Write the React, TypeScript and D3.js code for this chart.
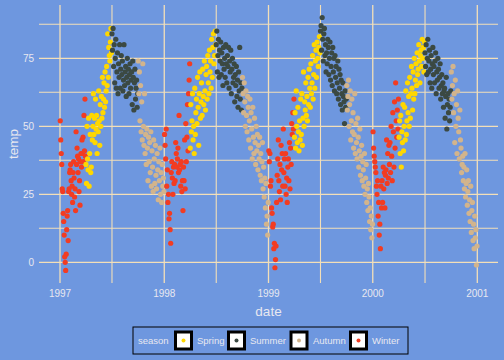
import React from 'react';
import * as d3 from 'd3';

// daily temps (°F), one array per quarter, in date order
const winter1997 = [52, 45, 40, 36, 27, 26, 18, 15, 10, 2, 0, -3, 3, 12, 17, 19, 8, 26, 27, 33, 34, 36, 30, 25, 28, 22, 33, 37, 31, 24, 27, 19, 48, 36, 42, 39, 33, 38, 26, 30, 21, 37, 40, 35, 45, 40, 46, 37, 54, 41, 60, 39];
const spring1997 = [36, 29, 50, 38, 34, 53, 28, 40, 47, 33, 35, 54, 45, 50, 62, 47, 53, 44, 60, 49, 54, 40, 51, 48, 63, 52, 43, 58, 50, 61, 53, 68, 55, 60, 66, 57, 70, 59, 63, 72, 65, 84, 68, 79, 76, 74, 81, 86, 77];
const summer1997 = [84, 78, 86, 72, 80, 66, 75, 82, 64, 70, 77, 62, 73, 68, 80, 64, 71, 76, 69, 74, 63, 67, 80, 65, 70, 72, 61, 68, 75, 66, 71, 62, 69, 73, 64, 67, 70, 58, 74, 68, 56, 66, 71, 60, 64, 67, 57, 62];
const autumn1997 = [74, 62, 70, 52, 65, 48, 59, 45, 73, 50, 43, 62, 40, 47, 36, 49, 42, 30, 46, 37, 44, 33, 48, 28, 41, 35, 26, 45, 38, 29, 43, 32, 27, 40, 34, 23, 37, 30, 42, 25, 33, 22, 36, 28, 31, 26];

const winter1998 = [47, 43, 38, 49, 28, 34, 22, 25, 16, 18, 12, 7, 33, 37, 31, 25, 35, 29, 36, 30, 44, 40, 35, 38, 42, 33, 54, 34, 36, 28, 37, 26, 30, 19, 35, 30, 45, 27, 51, 37, 46, 58, 41, 62, 67, 73];
const spring1998 = [42, 58, 48, 52, 62, 45, 50, 40, 64, 47, 55, 60, 51, 68, 57, 43, 62, 70, 53, 59, 66, 54, 71, 61, 58, 74, 63, 56, 69, 72, 60, 76, 66, 62, 78, 70, 74, 64, 82, 68, 79, 84, 73, 76, 85, 80];
const summer1998 = [80, 85, 70, 76, 82, 68, 78, 74, 81, 69, 77, 73, 65, 79, 71, 75, 68, 80, 73, 66, 76, 72, 79, 64, 74, 70, 78, 62, 71, 75, 66, 68, 73, 59, 69, 65, 72, 61, 67, 57, 70, 63, 79, 60, 66, 56, 64];
const autumn1998 = [68, 62, 55, 66, 59, 50, 63, 54, 48, 61, 57, 45, 52, 60, 42, 55, 49, 38, 57, 46, 40, 53, 44, 36, 50, 41, 47, 34, 43, 38, 46, 32, 40, 30, 37, 44, 27, 35, 24, 31, 20, 29, 14, 17, 10, 22];

const winter1999 = [41, 37, 40, 28, 30, 20, 18, 13, 14, 5, 7, -2, 1, 6, 22, 32, 38, 45, 30, 26, 36, 23, 43, 34, 40, 28, 49, 33, 38, 28, 40, 25, 31, 22, 35, 38, 30, 44, 27, 42, 36, 51, 47, 55, 49, 60];
const spring1999 = [46, 55, 42, 63, 50, 44, 57, 48, 41, 52, 45, 60, 47, 62, 43, 53, 70, 50, 59, 56, 66, 54, 61, 52, 68, 58, 71, 64, 57, 73, 62, 66, 76, 60, 69, 80, 64, 74, 78, 68, 81, 75, 72, 79, 83, 77];
const summer1999 = [85, 87, 78, 90, 82, 74, 84, 86, 76, 80, 70, 77, 73, 82, 79, 69, 75, 81, 67, 72, 77, 65, 79, 70, 75, 63, 76, 68, 72, 62, 66, 74, 60, 71, 64, 69, 58, 67, 62, 56, 66, 61, 59, 51, 63, 57, 60];
const autumn1999 = [65, 56, 61, 67, 50, 58, 63, 45, 52, 60, 48, 55, 42, 47, 62, 40, 51, 44, 38, 53, 46, 35, 41, 49, 32, 39, 43, 30, 37, 34, 28, 40, 25, 31, 36, 22, 27, 19, 29, 24, 15, 20, 12, 17, 9, 14];

const winter2000 = [48, 42, 39, 37, 35, 33, 28, 25, 30, 17, 22, 10, 14, 5, 28, 20, 30, 22, 35, 27, 33, 20, 32, 34, 45, 29, 40, 31, 43, 36, 44, 33, 50, 39, 30, 55, 48, 35, 59, 42, 66, 52, 46, 56, 49, 60];
const spring2000 = [46, 52, 40, 54, 35, 48, 44, 58, 41, 50, 57, 45, 63, 47, 52, 66, 55, 61, 50, 68, 53, 62, 72, 64, 56, 70, 60, 75, 62, 67, 73, 65, 77, 69, 71, 80, 74, 66, 76, 78, 72, 82, 75, 79, 70, 81];
const summer2000 = [77, 72, 80, 69, 75, 82, 70, 74, 78, 66, 71, 76, 64, 73, 79, 69, 72, 66, 74, 77, 62, 70, 67, 75, 71, 64, 68, 73, 60, 65, 69, 62, 66, 57, 63, 64, 53, 61, 68, 49, 58, 62, 55, 60, 52, 57, 63];
const autumn2000 = [70, 60, 65, 72, 55, 62, 44, 67, 50, 58, 40, 63, 53, 48, 38, 56, 45, 42, 33, 36, 39, 30, 35, 27, 40, 24, 29, 34, 21, 26, 30, 18, 23, 15, 28, 11, 19, 22, 8, 14, 5, 17, 9, 12, -1, 6];

const seasons = ['Spring', 'Summer', 'Autumn', 'Winter'];
const seasonColors = ['#ffd700', '#3b4943', '#d2b48c', '#f23c22'];
const years = [1997, 1998, 1999, 2000];
const yTicks = [0, 25, 50, 75];

// quarter index -> season
const quarterSeason = ['Winter', 'Spring', 'Summer', 'Autumn'];
const quarters = [
  [winter1997, spring1997, summer1997, autumn1997],
  [winter1998, spring1998, summer1998, autumn1998],
  [winter1999, spring1999, summer1999, autumn1999],
  [winter2000, spring2000, summer2000, autumn2000],
];

const points = [];
years.forEach((yr, yi) => {
  quarters[yi].forEach((vals, q) => {
    const start = new Date(yr, q * 3, 1).getTime();
    const end = new Date(yr, q * 3 + 3, 1).getTime();
    vals.forEach((v, i) => {
      points.push({
        date: new Date(start + ((i + 0.5) / vals.length) * (end - start)),
        temp: v,
        season: quarterSeason[q],
      });
    });
  });
});

const W = 504, H = 360;
const panel = { left: 39, right: 498, top: 5, bottom: 283 };

const x = d3.scaleTime()
  .domain([new Date(1997, 0, 1), new Date(2001, 0, 1)])
  .range([60, 477.3]);
const y = d3.scaleLinear().domain([0, 75]).range([262.3, 58.3]);
const color = d3.scaleOrdinal<string, string>().domain(seasons).range(seasonColors);

const font = 'Liberation Sans, Arial, Helvetica, sans-serif';
const textCol = '#e8e8f0';
const gridCol = '#f3dfb8';

export default function App() {
  const xBreaks = [1997, 1998, 1999, 2000, 2001].map(yr => new Date(yr, 0, 1));
  const xMinor = [1997, 1998, 1999, 2000].map(yr => new Date(yr, 6, 2));
  const yMinor = [12.5, 37.5, 62.5, 87.5];

  const legendKeys = [
    { x: 174, label: 'Spring', tx: 197 },
    { x: 227, label: 'Summer', tx: 250 },
    { x: 289.5, label: 'Autumn', tx: 313 },
    { x: 349, label: 'Winter', tx: 372 },
  ];

  return (
    <svg width={W} height={H} style={{ position: 'absolute', left: 0, top: 0, display: 'block' }}
      fontFamily={font}>
      <rect width={W} height={H} fill="#6e97df" />

      {/* grid */}
      {yMinor.map(v => (
        <line key={'ym' + v} x1={panel.left} x2={panel.right} y1={y(v)} y2={y(v)}
          stroke={gridCol} strokeWidth={1.1} />
      ))}
      {xMinor.map(d => (
        <line key={'xm' + d.getTime()} x1={x(d)} x2={x(d)} y1={panel.top} y2={panel.bottom}
          stroke={gridCol} strokeWidth={1.1} />
      ))}
      {yTicks.map(v => (
        <line key={'y' + v} x1={panel.left} x2={panel.right} y1={y(v)} y2={y(v)}
          stroke={gridCol} strokeWidth={1.3} />
      ))}
      {xBreaks.map(d => (
        <line key={'x' + d.getTime()} x1={x(d)} x2={x(d)} y1={panel.top} y2={panel.bottom}
          stroke={gridCol} strokeWidth={1.3} />
      ))}

      {/* points */}
      {points.map((p, i) => (
        <circle key={i} cx={x(p.date)} cy={y(p.temp)} r={2.6} fill={color(p.season)} />
      ))}

      {/* axis labels */}
      {yTicks.map(v => (
        <text key={'yl' + v} x={34} y={y(v)} dy="0.35em" textAnchor="end" fontSize={10}
          fill={textCol}>{v}</text>
      ))}
      {xBreaks.map(d => (
        <text key={'xl' + d.getTime()} x={x(d)} y={297} textAnchor="middle" fontSize={10}
          fill={textCol}>{d.getFullYear()}</text>
      ))}
      <text x={(panel.left + panel.right) / 2} y={316} textAnchor="middle" fontSize={13.5}
        fill={textCol}>date</text>
      <text transform={`translate(18,${(panel.top + panel.bottom) / 2}) rotate(-90)`}
        textAnchor="middle" fontSize={13.5} fill={textCol}>temp</text>

      {/* legend */}
      <rect x={133} y={327} width={275} height={27} fill="none" stroke="#000" strokeWidth={1} />
      <text x={138} y={341} dy="0.35em" fontSize={9.5} fill={textCol}>season</text>
      {legendKeys.map((k, i) => (
        <g key={k.label}>
          <rect x={k.x + 1.5} y={332} width={16} height={17} fill="#fff" stroke="#000" strokeWidth={3} />
          <circle cx={k.x + 9.5} cy={340.5} r={2} fill={seasonColors[i]} />
          <text x={k.tx} y={341} dy="0.35em" fontSize={9.5} fill={textCol}>{k.label}</text>
        </g>
      ))}
    </svg>
  );
}
